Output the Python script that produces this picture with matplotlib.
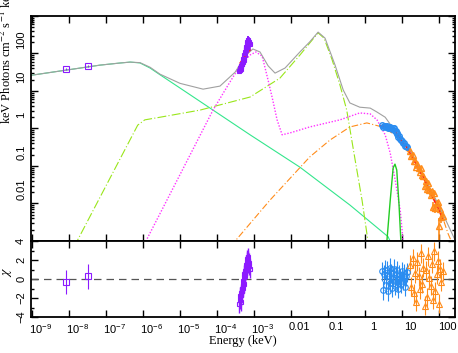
import matplotlib
matplotlib.use('Agg')
import matplotlib.pyplot as plt
from matplotlib.ticker import FixedLocator, FuncFormatter, MultipleLocator, NullFormatter
from matplotlib.transforms import ScaledTranslation

plt.rcParams['font.family'] = ['Liberation Sans', 'DejaVu Sans']
plt.rcParams['mathtext.fontset'] = 'custom'
plt.rcParams['mathtext.rm'] = 'Liberation Sans'
plt.rcParams['mathtext.it'] = 'Liberation Sans:italic'

# model components (energy in keV, keV Photons cm^-2 s^-1 keV^-1)
teal_e = [8.9e-10, 8.3e-9, 6.9e-8, 2.5e-7, 4.5e-7, 8.3e-7, 1.55e-6, 2.9e-6, 1e-5, 7.8e-5, 7.8e-4, 0.0174, 0.39, 4.2, 5.0]
teal_f = [26, 36, 49, 56, 59, 56, 41, 27, 12, 3.1, 0.68, 0.093, 0.0091, 1.3e-3, 8.9e-4]

magenta_e = [1e-6, 1.2e-6, 1e-5, 7.8e-5, 2.24e-4, 4.2e-4, 7.8e-4, 1.12e-3, 1.66e-3, 2.4e-3, 3.2e-3, 4.2e-3,
             5.75e-3, 9.3e-3, 0.032, 0.21, 0.72, 1.38, 2.1, 3.5, 4.8, 6.5, 8.9, 10.7, 11.5]
magenta_f = [7e-4, 1e-3, 0.059, 3.1, 17.4, 47, 91, 110, 85, 19.5, 5.8, 1.7,
             0.68, 0.76, 1.1, 1.7, 2.6, 2.45, 1.7, 0.68, 0.22, 0.043, 6.8e-3, 1e-3, 5e-4]

lime_e = [1.4e-8, 1.66e-8, 7.2e-7, 1.12e-6, 2.9e-6, 3.5e-5, 7.8e-4, 5e-3, 0.0174, 0.032, 0.054, 0.078,
          0.129, 0.21, 0.32, 0.54, 0.83, 1.2, 1.32]
lime_f = [7e-4, 1e-3, 1.23, 1.7, 2.0, 3.1, 6.9, 22, 91, 190, 355, 257,
          68, 14.5, 3.1, 0.145, 0.0123, 1e-3, 5e-4]

orange_e = [2.5e-4, 3.1e-4, 2.7e-3, 0.032, 0.112, 0.39, 1.12, 2.9, 6.5, 16.6, 41.7, 107, 174, 270]
orange_f = [7e-4, 1e-3, 0.0123, 0.174, 0.49, 1.1, 1.41, 1.1, 0.68, 0.195, 0.043, 6.8e-3, 1.6e-3, 5.8e-4]

green_e = [3.8, 3.9, 4.8, 5.75, 6.45, 7.2, 8.3, 9.3, 9.5]
green_f = [7e-4, 1e-3, 0.0123, 0.089, 0.112, 0.078, 0.0091, 1e-3, 7e-4]

gray_e = [8.9e-10, 8.3e-9, 6.9e-8, 2.5e-7, 4.5e-7, 8.3e-7, 1.55e-6, 2.9e-6, 1e-5, 4.2e-5, 1.2e-4, 3.1e-4,
          5.75e-4, 9.3e-4, 1.45e-3, 2.4e-3, 3.7e-3, 6.9e-3, 0.0174, 0.032, 0.054, 0.083, 0.155, 0.257,
          0.39, 0.72, 1.38, 2.1, 3.5, 4.8, 6.5, 16.6, 41.7, 107, 270]
gray_f = [26, 36, 49, 56, 59, 57, 43, 28, 16, 11.2, 13.5, 32,
          85, 132, 110, 47, 30, 41, 110, 204, 372, 257, 49, 10.7,
          4.8, 3.7, 3.5, 2.75, 2.0, 1.3, 0.87, 0.27, 0.048, 7.6e-3, 1.07e-3]

red_opt_e = [4.2e-4, 5.0e-4, 6.0e-4, 7.0e-4, 7.8e-4]
red_opt_f = [56, 72, 90, 110, 123]
red_x_e = [2.7, 3.55, 4.47, 5.6, 6.45, 7.9, 10, 13.8, 20, 28, 37, 50, 71, 100, 129]
red_x_f = [1.17, 1.12, 1.07, 1.0, 0.89, 0.63, 0.44, 0.30, 0.158, 0.085, 0.051, 0.027, 0.0132, 0.0066, 0.0036]

# data
sq_e = [8.3e-9, 3.2e-8]
sq_f = [39, 47]
sq_ferr = [3, 3.5]
sq_chi = [-0.3, 0.3]

uv_e = [3.98e-4, 4.17e-4, 4.27e-4, 4.37e-4, 4.47e-4, 4.57e-4, 4.68e-4, 4.79e-4, 4.90e-4, 5.01e-4,
        5.13e-4, 5.25e-4, 5.37e-4, 5.50e-4, 5.62e-4, 5.75e-4, 5.89e-4, 6.03e-4, 6.17e-4, 6.31e-4,
        6.46e-4, 6.61e-4, 6.76e-4, 6.92e-4, 7.08e-4, 7.24e-4, 7.41e-4, 7.59e-4]
uv_f = [34, 37, 42, 39, 47, 47, 54, 52, 62, 60, 71, 68, 81, 93, 91, 107, 129, 123, 148, 145,
        178, 204, 178, 229, 219, 204, 190, 178]
uv_ferr = [6, 7, 8, 7, 9, 9, 11, 10, 13, 13, 16, 15, 19, 22, 22, 27, 33, 32, 40, 40,
           50, 60, 54, 72, 70, 67, 64, 62]
uv_chi = [-2.6, -2.2, -1.8, -2.4, -1.5, -1.7, -1.0, -1.3, -0.6, -0.9, -0.2, -0.5, 0.2, 0.5,
          0.3, 0.8, 1.2, 1.0, 1.5, 1.3, 1.8, 2.1, 1.6, 2.3, 2.0, 1.7, 1.4, 1.1]

blue_e = [2.9, 3.1, 3.3, 3.5, 3.7, 3.9, 4.1, 4.35, 4.6, 4.85, 5.1, 5.4, 5.7, 6.0, 6.35, 6.7, 7.1,
          7.5, 7.9, 8.4, 8.9, 9.4, 10.0, 10.6, 11.3, 12.0, 12.8, 13.6]
blue_f = [1.21, 1.10, 1.18, 1.18, 1.09, 1.16, 1.03, 1.09, 1.12, 1.02, 1.05, 0.97, 1.00, 1.00, 0.88,
          0.84, 0.74, 0.72, 0.60, 0.62, 0.54, 0.49, 0.46, 0.40, 0.40, 0.34, 0.335, 0.32]
blue_ferr = [0.047, 0.046, 0.046, 0.045, 0.045, 0.044, 0.044, 0.043, 0.042, 0.042, 0.041, 0.04,
             0.04, 0.038, 0.036, 0.033, 0.03, 0.028, 0.025, 0.024, 0.022, 0.02, 0.018, 0.016,
             0.016, 0.014, 0.013, 0.012]
blue_chi = [0.8, -1.2, 0.5, 1.0, -0.6, 0.9, -1.3, 0.3, 1.2, -0.4, 0.6, -0.9, 0.2, 1.1, -0.7, 0.4,
            -0.3, 0.9, -1.0, 0.5, 0.1, -0.5, 0.8, -0.2, 0.6, -0.8, 0.3, 0.7]

orange_de = [16.5, 17.8, 19.2, 20.7, 22.3, 24.0, 25.9, 27.9, 30.1, 32.4, 34.9, 37.6, 40.5, 43.7,
             47.1, 50.7, 54.7, 58.9, 63.5, 68.4, 73.7, 79.5, 85.6, 92.3, 99.5, 107, 116, 125]
orange_df = [0.244, 0.19, 0.2, 0.132, 0.135, 0.093, 0.116, 0.087, 0.068, 0.086, 0.056, 0.055,
             0.0286, 0.041, 0.024, 0.035, 0.0227, 0.0169, 0.0211, 0.0083, 0.0186, 0.0078, 0.0101,
             0.0108, 0.0025, 0.0071, 0.0043, 0.0047]
orange_dferr = [0.0134, 0.012, 0.012, 0.0104, 0.0103, 0.0092, 0.009, 0.0077, 0.0076, 0.0068, 0.0065,
                0.0054, 0.0052, 0.0048, 0.0042, 0.0036, 0.0034, 0.003, 0.0028, 0.0025, 0.0023, 0.0021,
                0.0019, 0.0017, 0.0016, 0.0014, 0.0013, 0.0011]
orange_chi = [1.5, -0.8, 2.2, -1.5, 0.6, -2.4, 1.8, 0.3, -1.1, 2.7, -0.5, 1.2, -2.8, 0.9, -1.9, 2.4,
              0.1, -0.7, 1.6, -2.2, 2.9, -1.3, 0.5, 1.9, -2.6, 1.1, -0.3, 0.8]

c_teal = '#33e68c'
c_lime = '#99e61a'
c_mag = '#ff33ff'
c_orange = '#ff8c1a'
c_green = '#22cc22'
c_gray = '#a0a0a0'
c_purple = '#8c1aff'
c_blue = '#2a8cf0'
c_red = '#ff1a1a'

fig = plt.figure(figsize=(4.58, 3.53), dpi=100)
ax = fig.add_axes([31 / 458, 1 - 241 / 353, 424 / 458, 225 / 353])
axr = fig.add_axes([31 / 458, 1 - 317 / 353, 424 / 458, 76 / 353], sharex=ax)

ax.plot(teal_e, teal_f, color=c_teal, lw=0.8)
ax.plot(lime_e, lime_f, color=c_lime, lw=0.8, ls=(0, (8, 2, 1, 2)))
ax.plot(orange_e, orange_f, color=c_orange, lw=0.8, ls=(0, (6, 2, 1, 2)))
ax.plot(magenta_e, magenta_f, color=c_mag, lw=1.0, ls=(0, (1, 1.2)))
ax.plot(green_e, green_f, color=c_green, lw=1.0)
ax.plot(gray_e, gray_f, color=c_gray, lw=0.8)

ax.errorbar(sq_e, sq_f, yerr=sq_ferr, fmt='s', ms=4, mfc='none', mec=c_purple, ecolor=c_purple,
            elinewidth=0.8, mew=0.8)
ax.errorbar(uv_e, uv_f, yerr=uv_ferr, xerr=0.000006, fmt='s', ms=2.5, mfc='none', mec=c_purple,
            ecolor=c_purple, elinewidth=1.2, mew=0.8)
ax.errorbar(blue_e, blue_f, yerr=blue_ferr, xerr=0.1, fmt='o', ms=4, mfc='none', mec=c_blue,
            ecolor=c_blue, elinewidth=1.2, mew=1.0)
ax.errorbar(orange_de, orange_df, yerr=orange_dferr, fmt='^', ms=4, mfc='none', mec=c_orange,
            ecolor=c_orange, elinewidth=1.2, mew=1.0)
ax.plot(red_opt_e, red_opt_f, color=c_red, lw=1.0)
ax.plot(red_x_e, red_x_f, color=c_red, lw=1.2)

ax.set_xscale('log')
ax.set_yscale('log')
ax.set_xlim(9.4e-10, 270)
ax.set_ylim(1e-3, 1e3)

# residuals
axr.axhline(0, color='#555555', lw=0.9, ls=(0, (6, 4)))
axr.errorbar(sq_e, sq_chi, yerr=1.3, fmt='s', ms=4, mfc='none', mec=c_purple, ecolor=c_purple,
             elinewidth=0.8, mew=0.8)
axr.errorbar(uv_e, uv_chi, yerr=1.0, fmt='s', ms=2.5, mfc='none', mec=c_purple, ecolor=c_purple,
             elinewidth=1.0, mew=0.8)
axr.errorbar(blue_e, blue_chi, yerr=1.0, xerr=0.1, fmt='o', ms=4, mfc='none', mec=c_blue,
             ecolor=c_blue, elinewidth=0.8, mew=0.8)
axr.errorbar(orange_de, orange_chi, yerr=1.0, fmt='^', ms=4, mfc='none', mec=c_orange,
             ecolor=c_orange, elinewidth=0.8, mew=0.8)
axr.set_ylim(-4, 4)
axr.yaxis.set_major_locator(MultipleLocator(2))
axr.yaxis.set_minor_locator(MultipleLocator(1))

xticks = [10.0 ** k for k in range(-9, 3)]
xlabels = ['$10^{-9}$', '$10^{-8}$', '$10^{-7}$', '$10^{-6}$', '$10^{-5}$', '$10^{-4}$',
           '$10^{-3}$', '0.01', '0.1', '1', '10', '100']
axr.xaxis.set_major_locator(FixedLocator(xticks))
axr.set_xticks(xticks, xlabels)
plt.setp(ax.get_xticklabels(), visible=False)

ylabels = {1e2: '100', 1e1: '10', 1e0: '1', 1e-1: '0.1', 1e-2: '0.01'}
ax.yaxis.set_major_formatter(FuncFormatter(
    lambda v, p: next((s for k, s in ylabels.items() if abs(v / k - 1) < 1e-6), '')))
ax.yaxis.set_minor_formatter(NullFormatter())

for a in (ax, axr):
    a.tick_params(which='both', direction='in', top=True, right=True, width=1.0, labelsize=8)
    a.tick_params(which='major', length=5)
    a.tick_params(which='minor', length=2.5)
    for s in a.spines.values():
        s.set_linewidth(1.3)
    for lbl in a.get_yticklabels():
        lbl.set_rotation(90)
        lbl.set_va('center')

ax.set_ylabel('keV Photons cm$^{-2}$ s$^{-1}$ keV$^{-1}$', family='Liberation Serif', fontsize=9,
              math_fontfamily='stix')
ax.yaxis.set_label_coords(-0.041, 0.85)
axr.set_ylabel('$\\chi$', fontsize=10, math_fontfamily='stix')
axr.yaxis.set_label_coords(-0.041, 0.59)
axr.set_xlabel('Energy (keV)', family='Liberation Serif', fontsize=9)
axr.xaxis.set_label_coords(0.5, -0.24)

fig.canvas.draw()
xshift = ScaledTranslation(0.085, 0, fig.dpi_scale_trans)
for lbl in axr.get_xticklabels():
    lbl.set_transform(lbl.get_transform() + xshift)
yshift = ScaledTranslation(0, 0.14, fig.dpi_scale_trans)
for lbl in ax.get_yticklabels():
    lbl.set_transform(lbl.get_transform() + yshift)

fig.savefig('out.png', dpi=100)
